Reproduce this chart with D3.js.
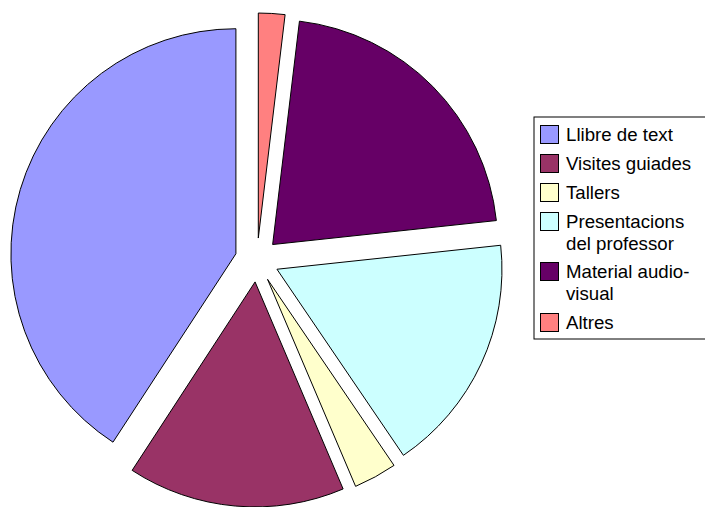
<!DOCTYPE html>
<html>
<head>
<meta charset="utf-8">
<script src="https://cdn.jsdelivr.net/npm/d3@7"></script>
<style>
  body { margin: 0; background: #fff; }
  svg { display: block; }
</style>
</head>
<body>
<svg width="705" height="507"></svg>
<script>
// values (percent)
var categories = ["Llibre de text", "Visites guiades", "Tallers", "Presentacions del professor", "Material audio-visual", "Altres"];
var legendLines = [["Llibre de text"], ["Visites guiades"], ["Tallers"], ["Presentacions", "del professor"], ["Material audio-", "visual"], ["Altres"]];
var values = [40.8, 15.6, 3.1, 17.2, 21.4, 1.9];
var colors = ["#9999ff", "#993366", "#ffffcc", "#ccffff", "#660066", "#ff8080"];

var svg = d3.select("svg"),
  cx = 257, cy = 260,
  radius = 225,
  explode = 22;

var data = categories.map(function(c, i) { return {name: c, value: values[i], color: colors[i]}; });

// counterclockwise from 12 o'clock
var pie = d3.pie().sort(null).value(function(d) { return d.value; })
  .startAngle(0).endAngle(-2 * Math.PI);

var arc = d3.arc().innerRadius(0).outerRadius(radius);

var g = svg.append("g").attr("transform", "translate(" + cx + "," + cy + ")");

g.selectAll(".slice")
  .data(pie(data))
  .enter().append("path")
  .attr("class", "slice")
  .attr("transform", function(d) {
    var a = (d.startAngle + d.endAngle) / 2;
    return "translate(" + (Math.sin(a) * explode) + "," + (-Math.cos(a) * explode) + ")";
  })
  .attr("d", arc)
  .attr("fill", function(d) { return d.data.color; })
  .attr("stroke", "#000")
  .attr("stroke-width", 1)
  .attr("stroke-linejoin", "round");

// legend
var lx = 534, ly = 117;
svg.append("rect")
  .attr("x", lx).attr("y", ly)
  .attr("width", 200).attr("height", 222)
  .attr("fill", "#fff")
  .attr("stroke", "#000")
  .attr("stroke-width", 1);

var rowY = [125, 154, 183, 212, 262, 313];
var lineH = 21.6;

var item = svg.selectAll(".legend")
  .data(data)
  .enter().append("g")
  .attr("class", "legend")
  .attr("transform", function(d, i) { return "translate(" + (lx + 6) + "," + rowY[i] + ")"; });

item.append("rect")
  .attr("x", 0.5).attr("y", 0.5)
  .attr("width", 18).attr("height", 18)
  .attr("fill", function(d) { return d.color; })
  .attr("stroke", "#000")
  .attr("stroke-width", 1);

item.each(function(d, i) {
  var t = d3.select(this).append("text")
    .attr("x", 26)
    .attr("y", 16)
    .style("font", "18.67px 'Liberation Sans', Arial, sans-serif")
    .attr("fill", "#000");
  legendLines[i].forEach(function(s, j) {
    t.append("tspan").attr("x", 26).attr("dy", j == 0 ? 0 : lineH).text(s);
  });
});
</script>
</body>
</html>
